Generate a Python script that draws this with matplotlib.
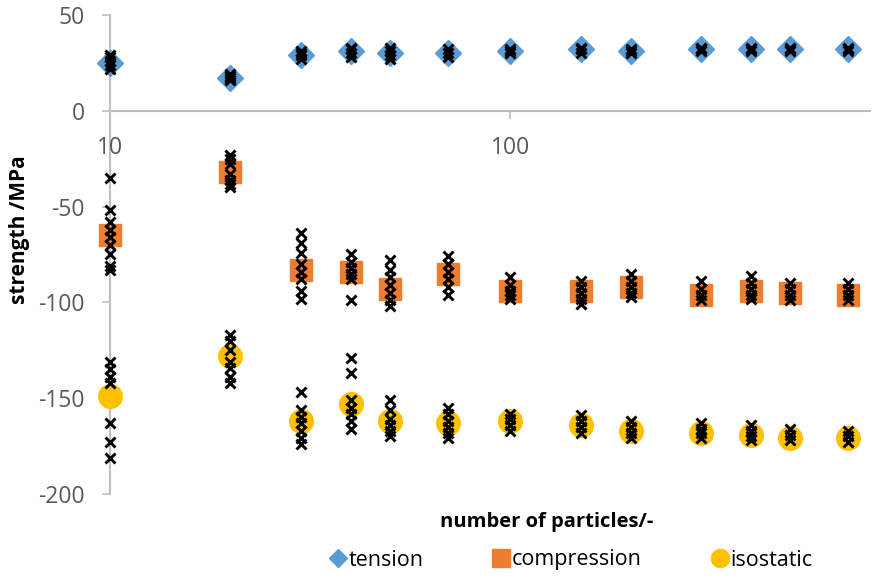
import matplotlib
matplotlib.use("Agg")
import matplotlib.pyplot as plt
from matplotlib.lines import Line2D

plt.rcParams['font.family'] = ['Open Sans', 'DejaVu Sans']
plt.rcParams['axes.unicode_minus'] = False

# number of particles
n_particles = [10, 20, 30, 40, 50, 70, 100, 150, 200, 300, 400, 500, 700]

# mean strengths (MPa)
tension = [25, 17, 29, 31, 30, 30, 31, 32, 31, 32, 32, 32, 32]
compression = [-65, -32, -83, -84, -93, -85, -94, -94, -92, -96, -94, -95, -96]
isostatic = [-149, -128, -162, -153, -162, -163, -162, -164, -167, -168, -169, -171, -171]

# individual samples (MPa), one list per particle count
tension_samples = [
    [22, 24, 26, 28, 29], [16, 17, 18, 19], [27, 29, 30, 31], [28, 30, 32, 33],
    [27, 29, 31, 33], [28, 30, 32], [30, 31, 32], [30, 32, 33], [30, 31, 32],
    [31, 32, 33], [31, 32, 33], [31, 32, 33], [31, 32, 33],
]
compression_samples = [
    [-35, -52, -58, -62, -66, -70, -75, -81, -83],
    [-23, -25, -28, -33, -36, -38, -40],
    [-64, -69, -74, -80, -84, -88, -94, -98],
    [-75, -79, -82, -85, -88, -99],
    [-78, -83, -87, -91, -95, -99, -102],
    [-76, -80, -84, -88, -92, -96],
    [-87, -91, -94, -96, -98],
    [-89, -92, -95, -98, -101],
    [-85, -89, -92, -95, -97],
    [-89, -93, -96, -99],
    [-86, -90, -93, -96, -98],
    [-90, -93, -96, -99],
    [-90, -93, -96, -99],
]
isostatic_samples = [
    [-131, -135, -139, -142, -163, -173, -181],
    [-117, -120, -125, -131, -134, -139, -142],
    [-147, -156, -160, -163, -167, -171, -174],
    [-129, -137, -151, -155, -158, -162, -166],
    [-151, -156, -161, -164, -167, -170],
    [-155, -158, -162, -165, -168, -171],
    [-158, -161, -164, -167],
    [-159, -162, -165, -168],
    [-162, -165, -168, -171],
    [-163, -166, -168, -171],
    [-164, -167, -170, -172],
    [-166, -169, -172],
    [-167, -170, -173],
]

blue = "#5B9BD5"
orange = "#ED7D31"
yellow = "#FFC000"
axis_gray = "#BFBFBF"
text_gray = "#595959"

fig = plt.figure(figsize=(8.75, 5.85), dpi=100)
ax = fig.add_axes([0.1257, 0.1556, 0.869, 0.8188])

ax.plot(n_particles, tension, ls="none", marker="D", ms=13, color=blue, clip_on=False)
ax.plot(n_particles, compression, ls="none", marker="s", ms=16, color=orange, clip_on=False)
ax.plot(n_particles, isostatic, ls="none", marker="o", ms=17, color=yellow, clip_on=False)

for samples in (tension_samples, compression_samples, isostatic_samples):
    for n, vals in zip(n_particles, samples):
        ax.plot([n] * len(vals), vals, ls="none", marker="x", ms=7.5, mew=2.1,
                color="black", clip_on=False, zorder=3)

ax.set_xscale("log")
ax.set_xlim(10, 794)
ax.set_ylim(-200, 50)
ax.set_xticks([10, 100])
ax.set_xticklabels(["10", "100"])
ax.xaxis.set_minor_locator(matplotlib.ticker.NullLocator())
ax.set_yticks([50, 0, -50, -100, -150, -200])

ax.spines["top"].set_visible(False)
ax.spines["right"].set_visible(False)
ax.spines["bottom"].set_position(("data", 0))
for s in ("left", "bottom"):
    ax.spines[s].set_color(axis_gray)
    ax.spines[s].set_linewidth(1.5)
    ax.spines[s].set_zorder(1)

ax.tick_params(axis="y", direction="out", length=6, width=1.2, color=axis_gray,
               labelsize=16.5, labelcolor=text_gray, pad=12)
ax.tick_params(axis="x", direction="out", length=6, width=1.2, color=axis_gray,
               labelsize=16.5, labelcolor=text_gray, pad=12)

fig.text(547 / 875, 1 - 522 / 585, "number of particles/-", ha="center", va="center",
         fontsize=14.5, fontweight="bold", color="black")
fig.text(20 / 875, 1 - 230 / 585, "strength /MPa", ha="center", va="center",
         rotation=90, fontsize=15, fontweight="bold", color="black")

handles = [
    Line2D([], [], ls="none", marker="D", ms=9, color=blue),
    Line2D([], [], ls="none", marker="s", ms=13, color=orange),
    Line2D([], [], ls="none", marker="o", ms=13, color=yellow),
]
fig.legend(handles, ["tension", "compression", "isostatic"], loc="center",
           bbox_to_anchor=(571 / 875, 1 - 560 / 585), ncol=3, frameon=False,
           fontsize=15.5, handlelength=0.8, handletextpad=0.1, columnspacing=3.2,
           labelcolor="black")

fig.savefig("out.png", dpi=100)
